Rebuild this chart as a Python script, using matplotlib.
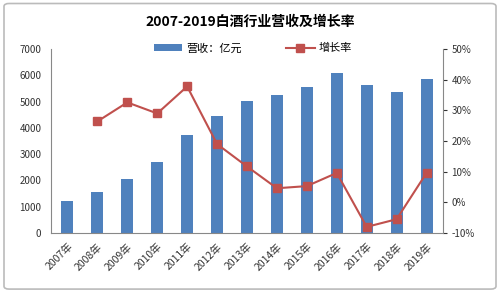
import matplotlib.pyplot as plt
from matplotlib.patches import FancyBboxPatch
import numpy as np

plt.rcParams['font.family'] = ['Noto Sans CJK SC', 'DejaVu Sans']

years = ['2007年', '2008年', '2009年', '2010年', '2011年', '2012年', '2013年',
         '2014年', '2015年', '2016年', '2017年', '2018年', '2019年']
revenue = [1220, 1560, 2050, 2700, 3730, 4450, 5020, 5250, 5550, 6080, 5630, 5360, 5860]
growth = [None, 26.4, 32.6, 29.0, 37.8, 19.0, 11.7, 4.6, 5.3, 9.6, -8.0, -5.5, 9.6]

bar_color = '#4F81BD'
line_color = '#C0504D'
axis_color = '#888888'

fig = plt.figure(figsize=(5, 2.92), dpi=100)
fig.patches.append(FancyBboxPatch((0.008, 0.01), 0.984, 0.978,
                                  boxstyle='round,pad=0,rounding_size=0.01',
                                  transform=fig.transFigure, fill=False,
                                  edgecolor='#BBBBBB', linewidth=1.2))

ax = fig.add_axes([0.102, 0.202, 0.784, 0.630])
x = np.arange(len(years))
ax.bar(x, revenue, width=0.4, color=bar_color, label='营收：亿元', zorder=2)
ax.set_ylim(0, 7000)
ax.set_yticks(np.arange(0, 7001, 1000))
ax.set_xlim(-0.55, len(years) - 0.45)
ax.set_xticks(x)
ax.set_xticklabels(years, rotation=45, ha='right', rotation_mode='anchor')
ax.tick_params(axis='y', length=0, labelsize=7, colors='#333333', pad=7)
ax.tick_params(axis='x', length=0, labelsize=7.5, colors='#333333', pad=6)
for s in ['top', 'right']:
    ax.spines[s].set_visible(False)
ax.spines['left'].set_color(axis_color)
ax.spines['bottom'].set_color(axis_color)

ax2 = ax.twinx()
gx = [i for i, g in enumerate(growth) if g is not None]
gy = [g for g in growth if g is not None]
ax2.plot(gx, gy, color=line_color, marker='s', markersize=5.5, linewidth=1.5,
         label='增长率', zorder=3)
ax2.set_ylim(-10, 50)
ax2.set_yticks(np.arange(-10, 51, 10))
ax2.set_yticklabels([f'{v}%' for v in range(-10, 51, 10)])
ax2.tick_params(axis='y', length=3, labelsize=7, colors='#333333', pad=3)
for s in ['top', 'left', 'bottom']:
    ax2.spines[s].set_visible(False)
ax2.spines['right'].set_color(axis_color)

fig.text(0.5, 0.925, '2007-2019白酒行业营收及增长率', ha='center', va='center',
         fontsize=10, fontweight='bold')

h1, l1 = ax.get_legend_handles_labels()
h2, l2 = ax2.get_legend_handles_labels()
fig.legend(h1 + h2, l1 + l2, loc='center', bbox_to_anchor=(0.505, 0.835), ncol=2,
           frameon=False, fontsize=8, columnspacing=4, handlelength=2.6,
           handletextpad=0.3, handleheight=0.5)

fig.savefig('out.png', dpi=100)
